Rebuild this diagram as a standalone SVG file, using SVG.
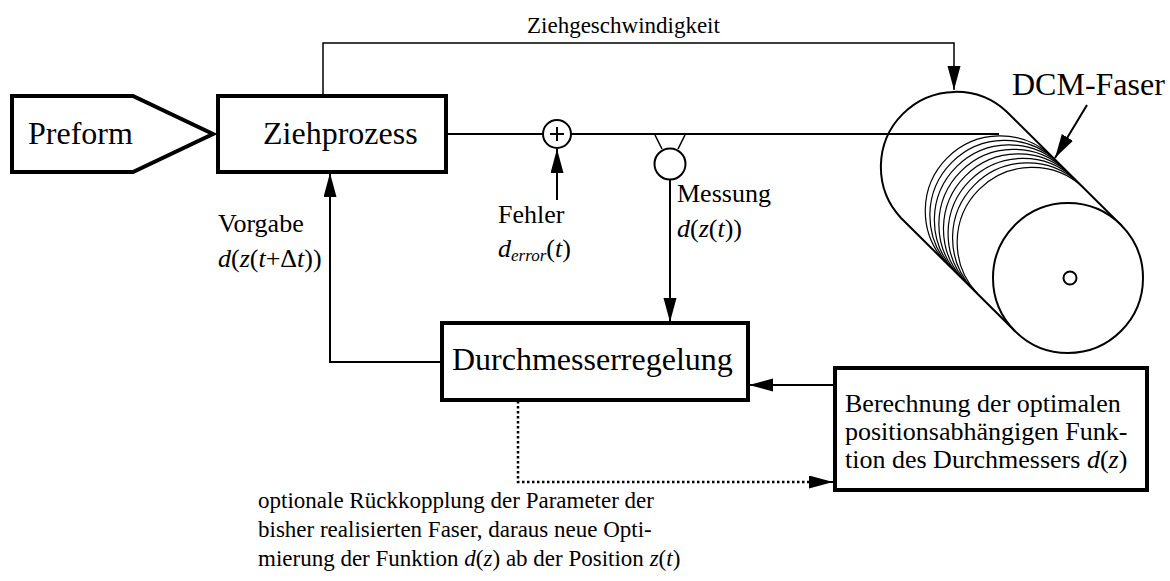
<svg xmlns="http://www.w3.org/2000/svg" width="1170" height="581" viewBox="0 0 1170 581" font-family="'Liberation Serif', 'DejaVu Serif', serif">
  <style>
    text { font-family: 'Liberation Serif', 'DejaVu Serif', serif; fill: #000; }
    .big { font-size: 32px; }
    .mid { font-size: 26px; }
    .small { font-size: 23px; }
    .box { fill: #fff; stroke: #000; stroke-width: 4; }
    .line { fill: none; stroke: #000; stroke-width: 2; }
    .thin { fill: none; stroke: #000; stroke-width: 1.5; }
    .wind { fill: none; stroke: #000; stroke-width: 1.2; }
    .spool { fill: #fff; stroke: #000; stroke-width: 2; }
    .dot { fill: none; stroke: #000; stroke-width: 2.5; stroke-dasharray: 2.5 2.5; }
  </style>
  <defs>
    <marker id="arrow" markerUnits="userSpaceOnUse" markerWidth="26" markerHeight="14" refX="24" refY="6.5" orient="auto">
      <path d="M0,0 L24,6.5 L0,13 Z" fill="#000"/>
    </marker>
  </defs>

  <rect width="1170" height="581" fill="#fff"/>

  <!-- take-up spool with wound fibre -->
  <g id="spool">
    <path class="spool" d="M1007,112 A75,75 0 0 0 901,218 L1015,331 L1121,225 Z"/>
    <g id="windings">
      <path class="wind" d="M1051.4,156 A75,75 0 0 0 945.4,262"/>
      <path class="wind" d="M1056,160.5 A75,75 0 0 0 950,266.5"/>
      <path class="wind" d="M1060.5,165 A75,75 0 0 0 954.5,271"/>
      <path class="wind" d="M1065,169.5 A75,75 0 0 0 959,275.5"/>
      <path class="wind" d="M1069.6,174 A75,75 0 0 0 963.6,280"/>
      <path class="wind" d="M1074.2,178.5 A75,75 0 0 0 968.2,284.5"/>
      <path class="wind" d="M1078.7,183 A75,75 0 0 0 972.7,289"/>
      <path class="wind" d="M1083.3,187.5 A75,75 0 0 0 977.3,293.5"/>
    </g>
    <circle class="spool" cx="1068" cy="278" r="75"/>
    <circle class="spool" cx="1070" cy="278" r="6.5" stroke-width="1.8"/>
  </g>

  <g id="connectors">
    <!-- fibre path from drawing process to spool -->
    <line class="line" x1="446" y1="134" x2="543" y2="134"/>
    <line class="line" x1="571" y1="134" x2="999" y2="134"/>
    <!-- drawing speed -->
    <path class="thin" d="M323,96 V43 H954 V90" marker-end="url(#arrow)"/>
    <!-- fibre label pointer -->
    <line class="line" x1="1087" y1="105" x2="1055" y2="158" marker-end="url(#arrow)"/>
    <!-- error input -->
    <line class="line" x1="557" y1="200" x2="557" y2="149" marker-end="url(#arrow)"/>
    <!-- measurement -->
    <line class="line" x1="670" y1="180" x2="670" y2="322" marker-end="url(#arrow)"/>
    <!-- setpoint -->
    <path class="line" d="M442,362 H330 V173" marker-end="url(#arrow)"/>
    <!-- optimal function to controller -->
    <line class="line" x1="835" y1="385" x2="749" y2="385" marker-end="url(#arrow)"/>
    <!-- optional feedback -->
    <path class="dot" d="M518,401 V482 H812"/>
    <line class="line" x1="808" y1="482" x2="833" y2="482" stroke-width="0" marker-end="url(#arrow)"/>
  </g>

  <g id="preform">
    <path class="box" d="M12,96 H133 L213,134 L133,172 H12 Z"/>
    <text class="big" x="28" y="144">Preform</text>
  </g>

  <g id="ziehprozess">
    <rect class="box" x="218" y="96" width="228" height="76"/>
    <text class="big" x="263" y="144">Ziehprozess</text>
  </g>

  <g id="summing">
    <circle class="line" cx="557" cy="134" r="14" fill="#fff"/>
    <path class="line" stroke-width="2.5" d="M550,134 H564 M557,127 V141"/>
  </g>

  <g id="sensor">
    <line class="thin" x1="662" y1="149" x2="655" y2="135"/>
    <line class="thin" x1="678" y1="149" x2="685" y2="135"/>
    <circle class="line" cx="670" cy="164" r="15.5" fill="#fff"/>
  </g>

  <g id="durchmesserregelung">
    <rect class="box" x="442" y="323" width="306" height="77"/>
    <text class="big" x="452" y="370">Durchmesserregelung</text>
  </g>

  <g id="berechnung">
    <rect class="box" x="835" y="368" width="312" height="122"/>
    <text class="mid" x="845" y="412">Berechnung der optimalen</text>
    <text class="mid" x="845" y="440">positionsabhängigen Funk-</text>
    <text class="mid" x="845" y="468">tion des Durchmessers <tspan font-style="italic">d</tspan>(<tspan font-style="italic">z</tspan>)</text>
  </g>

  <g id="labels">
    <text class="small" x="527" y="33">Ziehgeschwindigkeit</text>
    <text class="big" x="1012" y="95" font-size="31">DCM-Faser</text>
    <text class="mid" x="498" y="223">Fehler</text>
    <text class="mid" x="498" y="257"><tspan font-style="italic">d</tspan><tspan font-style="italic" font-size="17" dy="4">error</tspan><tspan dy="-4">(</tspan><tspan font-style="italic">t</tspan>)</text>
    <text class="mid" x="677" y="202">Messung</text>
    <text class="mid" x="677" y="237"><tspan font-style="italic">d</tspan>(<tspan font-style="italic">z</tspan>(<tspan font-style="italic">t</tspan>))</text>
    <text class="mid" x="218" y="232">Vorgabe</text>
    <text class="mid" x="218" y="267"><tspan font-style="italic">d</tspan>(<tspan font-style="italic">z</tspan>(<tspan font-style="italic">t</tspan>+Δ<tspan font-style="italic">t</tspan>))</text>
    <text class="small" x="258" y="508">optionale Rückkopplung der Parameter der</text>
    <text class="small" x="258" y="537">bisher realisierten Faser, daraus neue Opti-</text>
    <text class="small" x="258" y="566">mierung der Funktion <tspan font-style="italic">d</tspan>(<tspan font-style="italic">z</tspan>) ab der Position <tspan font-style="italic">z</tspan>(<tspan font-style="italic">t</tspan>)</text>
  </g>
</svg>
